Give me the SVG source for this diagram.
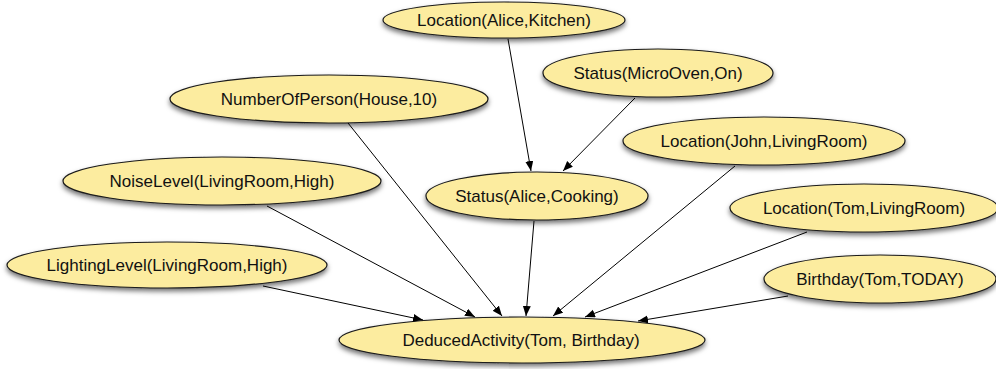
<svg xmlns="http://www.w3.org/2000/svg" width="996" height="369" viewBox="0 0 996 369">
<style>
.n ellipse{fill:#fcec9f;stroke:#1a1a1a;stroke-width:1.2;filter:url(#sh)}
.n text{font-family:"Liberation Sans",Arial,sans-serif;font-size:17px;fill:#111;text-anchor:middle}
.e line{stroke:#000;stroke-width:1;marker-end:url(#ah)}
</style>
<defs>
<filter id="sh" x="-10%" y="-30%" width="120%" height="170%">
<feDropShadow dx="0" dy="3" stdDeviation="2.5" flood-color="#000" flood-opacity="0.55"/>
</filter>
<marker id="ah" markerUnits="userSpaceOnUse" markerWidth="11" markerHeight="9" refX="10" refY="4" orient="auto">
<path d="M0,0 L10,4 L0,8 z" fill="#000"/>
</marker>
</defs>
<rect width="996" height="369" fill="#fff"/>
<g id="n-loc-alice" class="n"><ellipse cx="504" cy="20" rx="121" ry="18"/><text x="504" y="26">Location(Alice,Kitchen)</text></g>
<g id="n-status-microoven" class="n"><ellipse cx="658" cy="73" rx="115" ry="24"/><text x="658" y="79">Status(MicroOven,On)</text></g>
<g id="n-numberofperson" class="n"><ellipse cx="329" cy="99" rx="159" ry="24"/><text x="329" y="105">NumberOfPerson(House,10)</text></g>
<g id="n-loc-john" class="n"><ellipse cx="764" cy="141" rx="141" ry="24"/><text x="764" y="147">Location(John,LivingRoom)</text></g>
<g id="n-noiselevel" class="n"><ellipse cx="222" cy="181" rx="159" ry="24"/><text x="222" y="187">NoiseLevel(LivingRoom,High)</text></g>
<g id="n-status-alice" class="n"><ellipse cx="537" cy="196" rx="111" ry="24"/><text x="537" y="202">Status(Alice,Cooking)</text></g>
<g id="n-loc-tom" class="n"><ellipse cx="864" cy="208" rx="134" ry="24"/><text x="864" y="214">Location(Tom,LivingRoom)</text></g>
<g id="n-lightinglevel" class="n"><ellipse cx="167" cy="265" rx="160" ry="23"/><text x="167" y="271">LightingLevel(LivingRoom,High)</text></g>
<g id="n-birthday" class="n"><ellipse cx="880" cy="279" rx="116" ry="24"/><text x="880" y="285">Birthday(Tom,TODAY)</text></g>
<g id="n-deduced" class="n"><ellipse cx="522" cy="340" rx="183" ry="23"/><text x="521" y="346">DeducedActivity(Tom, Birthday)</text></g>
<g id="connectors" class="e">
<line x1="508" y1="39" x2="531" y2="171"/>
<line x1="635" y1="98" x2="563" y2="171"/>
<line x1="348" y1="123" x2="502" y2="316"/>
<line x1="267" y1="206" x2="475" y2="317"/>
<line x1="263" y1="286" x2="423" y2="320"/>
<line x1="534" y1="221" x2="526" y2="316"/>
<line x1="735" y1="166" x2="553" y2="316"/>
<line x1="807" y1="232" x2="585" y2="317"/>
<line x1="788" y1="296" x2="638" y2="321"/>
</g>
</svg>
